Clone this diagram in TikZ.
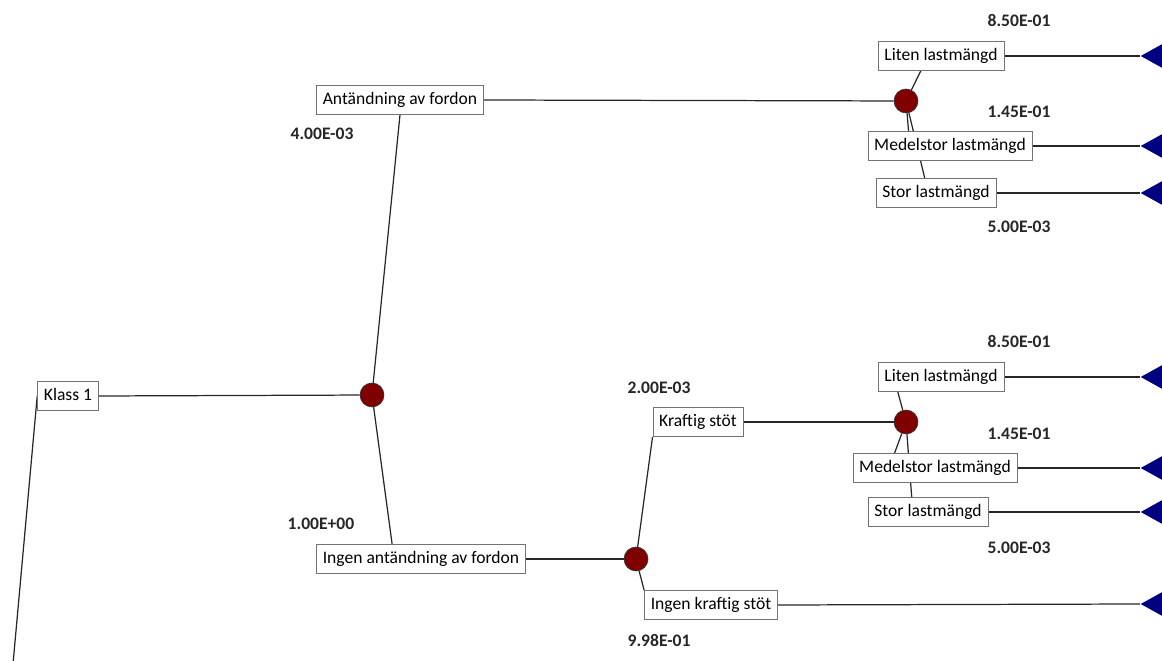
\documentclass[tikz,border=0pt]{standalone}
\usepackage{fontspec}
\setmainfont{Carlito}
\usetikzlibrary{shapes,backgrounds,calc,positioning}
\tikzset{
  ev/.style={draw=black!55,fill=white,inner xsep=3.6pt,inner ysep=0pt,
    minimum height=16.5pt,text height=7.2pt,text depth=2.2pt},
  chance/.style={circle,draw=black!80,fill=red!50!black,minimum size=13.6pt,inner sep=0pt},
  endtri/.style={isosceles triangle,isosceles triangle apex angle=58,shape border rotate=180,
    fill=blue!50!black,minimum width=18pt,minimum height=18pt,inner sep=0pt,anchor=apex},
  pr/.style={font=\bfseries,text=black!85},
  br/.style={line width=0.7pt,black!85}
}
\begin{document}
\begin{tikzpicture}[x=0.02cm,y=-0.02cm]
  \path[use as bounding box,clip] (0,0) rectangle (1162,661);

  % root and first chance node
  \coordinate (s0) at (13,664);
  \node[ev] (k1) at (68,396) {Klass 1};
  \node[chance] (c1) at (372,395) {};

  \node[ev] (a1) at (400,100) {Antändning av fordon};
  \node[ev] (a0) at (421,559) {Ingen antändning av fordon};
  \node[pr] (pa1) at (322,134) {4.00E-03};
  \node[pr] (pa0) at (321,524) {1.00E+00};

  % load, upper branch
  \node[chance] (c2) at (906,101) {};
  \node[ev] (l1) at (941,56) {Liten lastmängd};
  \node[ev] (m1) at (950,146) {Medelstor lastmängd};
  \node[ev] (s1) at (936,193) {Stor lastmängd};
  \node[pr] (pl1) at (1019,21) {8.50E-01};
  \node[pr] (pm1) at (1019,112) {1.45E-01};
  \node[pr] (ps1) at (1019,227) {5.00E-03};

  % impact
  \node[chance] (c3) at (636,559) {};
  \node[ev] (h1) at (698,422) {Kraftig stöt};
  \node[ev] (h0) at (711,605) {Ingen kraftig stöt};
  \node[pr] (ph1) at (659,388) {2.00E-03};
  \node[pr] (ph0) at (659,640) {9.98E-01};

  % load, lower branch
  \node[chance] (c4) at (906,422) {};
  \node[ev] (l2) at (941,377) {Liten lastmängd};
  \node[ev] (m2) at (935,468) {Medelstor lastmängd};
  \node[ev] (s2) at (928,512) {Stor lastmängd};
  \node[pr] (pl2) at (1019,342) {8.50E-01};
  \node[pr] (pm2) at (1019,434) {1.45E-01};
  \node[pr] (ps2) at (1019,548) {5.00E-03};

  % end points
  \foreach \n/\y in {t1/56,t2/146,t3/193,t4/377,t5/468,t6/512,t7/604}
    \node[endtri] (\n) at (1140,\y) {};

  \begin{scope}[on background layer]
    \draw[br] (s0) -- (k1.west);
    \draw[br] (k1.east) -- (c1);
    \draw[br] (c1) -- (a1.south);
    \draw[br] (c1) -- ($(a0.north west)+(76,0)$);
    \draw[br] (a1.east) -- (c2);
    \draw[br] (a0.east) -- (c3);

    \draw[br] (c2) -- ($(l1.south west)+(43,0)$);
    \draw[br] (c2) -- ($(m1.north west)+(41,0)$);
    \draw[br] (c2) -- ($(s1.north west)+(49,0)$);

    \draw[br] (c3) -- (h1.south west);
    \draw[br] (c3) -- (h0.north west);
    \draw[br] (h1.east) -- (c4);

    \draw[br] (c4) -- ($(l2.south west)+(20,0)$);
    \draw[br] (c4) -- ($(m2.north west)+(42,0)$);
    \draw[br] (c4) -- ($(s2.north west)+(44,0)$);

    \draw[br] (l1.east) -- (t1.apex);
    \draw[br] (m1.east) -- (t2.apex);
    \draw[br] (s1.east) -- (t3.apex);
    \draw[br] (l2.east) -- (t4.apex);
    \draw[br] (m2.east) -- (t5.apex);
    \draw[br] (s2.east) -- (t6.apex);
    \draw[br] (h0.east) -- (t7.apex);
  \end{scope}
\end{tikzpicture}
\end{document}
